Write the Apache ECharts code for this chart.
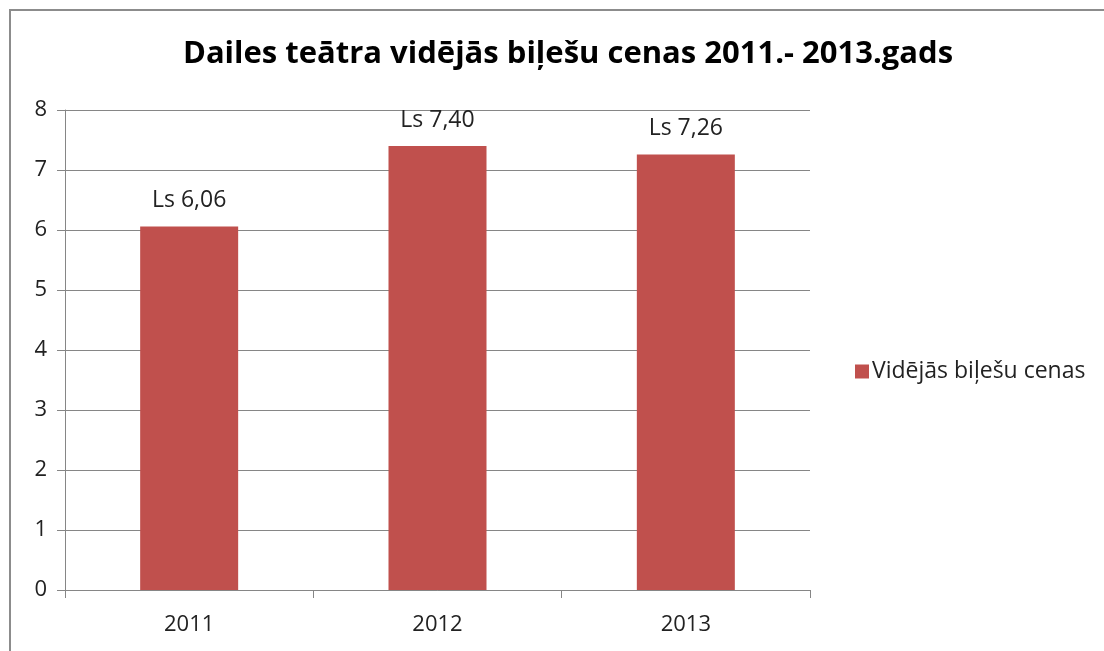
<!DOCTYPE html>
<html>
<head>
<meta charset="utf-8">
<script src="https://cdn.jsdelivr.net/npm/echarts@6/dist/echarts.min.js"></script>
<style>
html, body { margin: 0; padding: 0; background: #fff; overflow: hidden; }
#frame { position: absolute; left: 9px; top: 9px; width: 1200px; height: 700px; border: 2px solid #8c8c8c; }
#chart { position: absolute; left: 0; top: 0; width: 1104px; height: 651px; }
</style>
</head>
<body>
<div id="frame"></div>
<div id="chart"></div>
<script>
// dati
const years = ['2011', '2012', '2013']
const prices = [6.06, 7.40, 7.26]
const seriesName = 'Vidējās biļešu cenas'
const FONT = 'Open Sans'

const myChart = echarts.init(document.getElementById('chart'))
const option = {
    animation: false,
    color: ['#C0504D'],
    title: {
        text: 'Dailes teātra vidējās biļešu cenas 2011.- 2013.gads',
        left: 563,
        textAlign: 'center',
        top: 34,
        textStyle: { fontFamily: FONT, fontSize: 31, fontWeight: 'bold', color: '#000' },
    },
    legend: {
        data: [seriesName],
        left: 850,
        top: 355,
        itemWidth: 14,
        itemHeight: 14,
        itemGap: 4,
        icon: 'rect',
        textStyle: { fontFamily: FONT, fontSize: 23, color: '#222', padding: [0, 0, 0, -2] },
    },
    grid: { left: 65, right: 294, top: 110, bottom: 61 },
    xAxis: {
        type: 'category',
        data: years,
        axisLine: { lineStyle: { color: '#868686', width: 1 } },
        axisTick: { show: true, length: 8, lineStyle: { color: '#868686' } },
        axisLabel: { fontFamily: FONT, fontSize: 22, color: '#222', margin: 24 },
    },
    yAxis: {
        type: 'value',
        min: 0,
        max: 8,
        interval: 1,
        axisLine: { show: true, lineStyle: { color: '#868686', width: 1 } },
        axisTick: { show: true, length: 8, lineStyle: { color: '#868686' } },
        axisLabel: { fontFamily: FONT, fontSize: 22, color: '#222', margin: 18 },
        splitLine: { show: true, lineStyle: { color: '#868686', width: 1 } },
    },
    series: [{
        name: seriesName,
        type: 'bar',
        data: prices,
        barWidth: 98,
        label: {
            show: true,
            position: 'top',
            distance: 14,
            fontFamily: FONT,
            fontSize: 23,
            color: '#222',
            formatter: p => 'Ls ' + p.value.toFixed(2).replace('.', ','),
        },
    }],
}
myChart.setOption(option)
</script>
</body>
</html>
